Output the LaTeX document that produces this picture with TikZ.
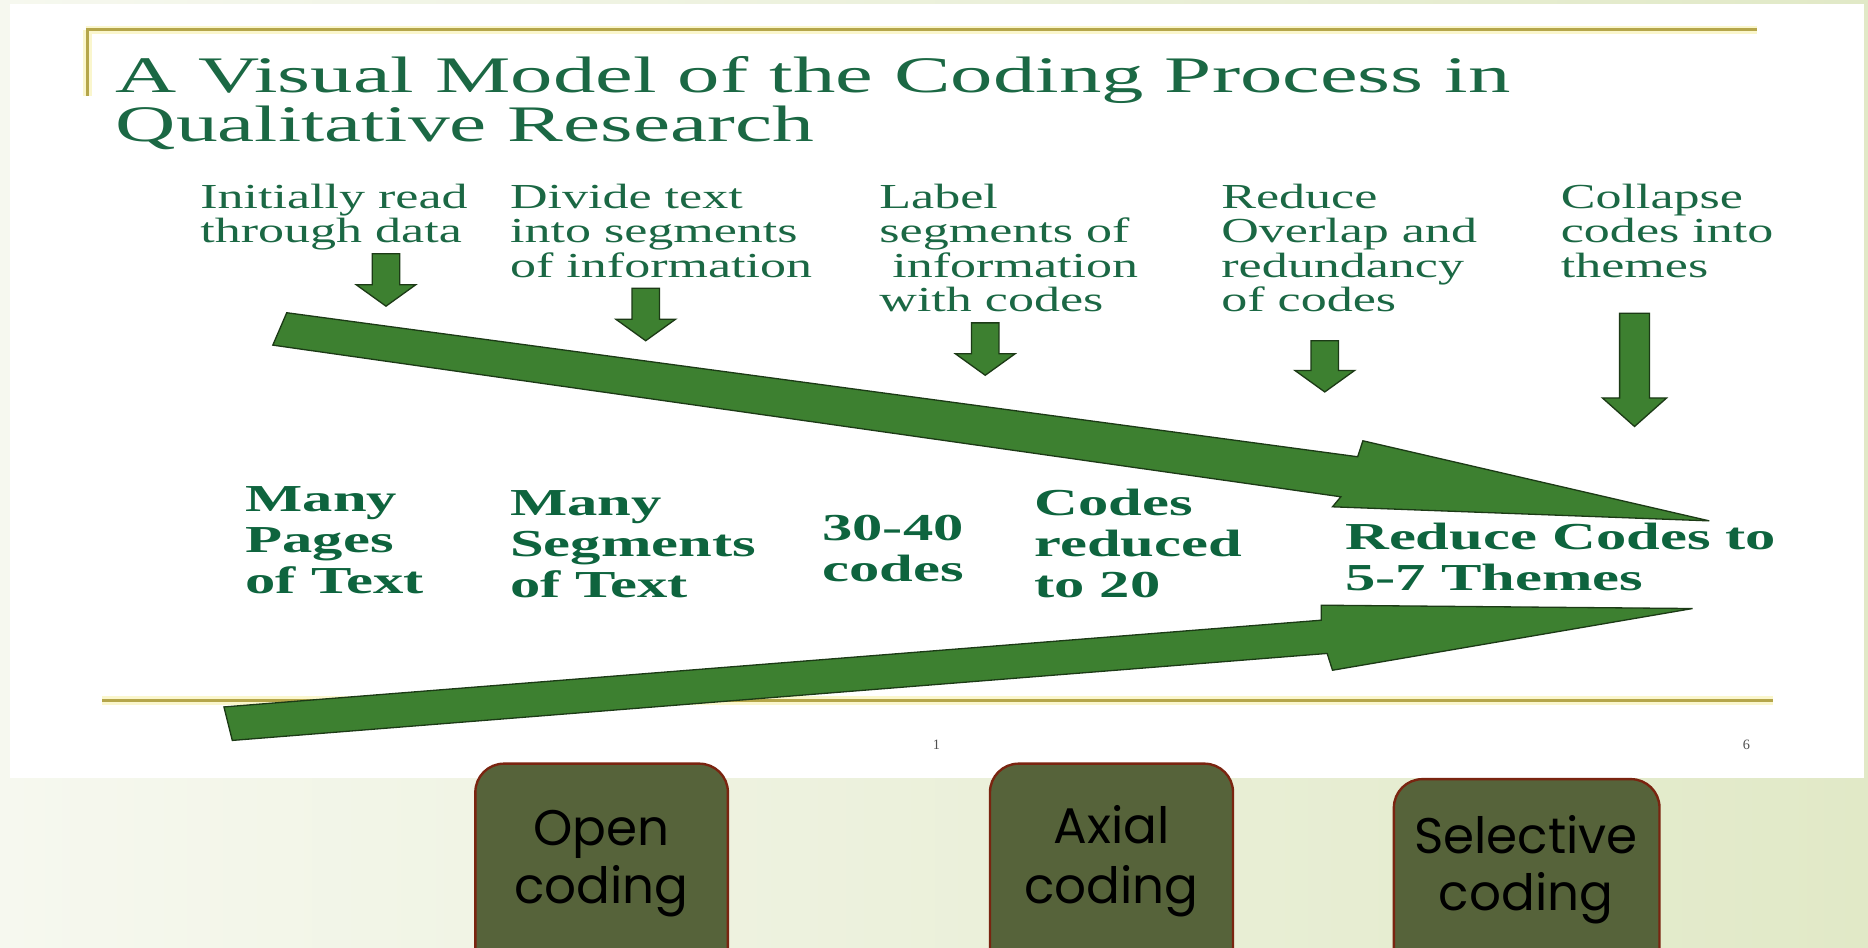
\documentclass[tikz,border=0pt]{standalone}
\usepackage{fontspec}
\setmainfont{Liberation Serif}
\newfontfamily\gothic{Poppins}
\definecolor{txtgreen}{RGB}{27,104,68}
\definecolor{boldgreen}{RGB}{14,100,62}
\definecolor{arrowfill}{RGB}{61,128,48}
\definecolor{arrowline}{RGB}{28,58,22}
\definecolor{gold}{RGB}{181,166,74}
\definecolor{glow}{RGB}{250,246,205}
\definecolor{boxfill}{RGB}{86,99,58}
\definecolor{boxline}{RGB}{122,36,16}
\definecolor{bgleft}{RGB}{246,248,239}
\definecolor{bgright}{RGB}{225,233,199}
\definecolor{pagegray}{RGB}{80,80,80}
\newcommand\txtcol[7]{% name, style, sx, x, y0, pitch, list
  \foreach \t [count=\i] in {#7} {%
    \node[#2] (#1\i) at (#4, {#5+(\i-1)*#6}) {\scalebox{#3}[1]{\t}};}}
\newcommand\blockdn[7]{% name, cx, top, headbase, tip, shaftw, headw
  \coordinate (#1) at (#2,#5);
  \filldraw[bigarrow] (#2-#6/2,#3) -- (#2+#6/2,#3) -- (#2+#6/2,#4) -- (#2+#7/2,#4)
    -- (#2,#5) -- (#2-#7/2,#4) -- (#2-#6/2,#4) -- cycle;}
\begin{document}
\begin{tikzpicture}[x=1pt,y=-1pt,
  desc/.style={anchor=base west, inner sep=0, text=txtgreen, font=\fontsize{29.5}{30}\selectfont},
  boldlbl/.style={anchor=base west, inner sep=0, text=boldgreen, font=\fontsize{32}{32}\selectfont\bfseries},
  titletxt/.style={anchor=base west, inner sep=0, text=txtgreen, font=\fontsize{43}{45}\selectfont},
  bigarrow/.style={fill=arrowfill, draw=arrowline, line width=1.1pt, line join=miter},
  codebox/.style={draw=boxline, fill=boxfill, line width=2pt, rounded corners=24pt, minimum height=220pt, anchor=north, inner sep=0},
  boxtxt/.style={anchor=base, inner sep=0, text=black, font=\gothic\fontsize{42}{42}\selectfont},
  pagenum/.style={inner sep=0, text=pagegray, font=\fontsize{12}{12}\selectfont},
  goldline/.style={draw=gold, line width=2.5pt},
  glowline/.style={draw=glow, line width=7pt}]
\useasboundingbox (0,0) rectangle (1568,795);
\clip (0,0) rectangle (1568,795);
% background
\fill[left color=bgleft, right color=bgright] (0,0) rectangle (1568,795);
\fill[white] (8,3) rectangle (1565,653);
% gold rules
\draw[glowline] (72,25) -- (1475,25);
\draw[glowline] (73.5,25) -- (73.5,81);
\draw[glowline] (86,588) -- (1488,588);
\draw[goldline] (72,25) -- (1475,25);
\draw[gold, line width=3pt] (73.5,24) -- (73.5,81);
\draw[goldline] (86,588) -- (1488,588);
% title
\node[titletxt] (title1) at (97,78) {\resizebox{1171pt}{\height}{A Visual Model of the Coding Process in}};
\node[titletxt] (title2) at (97,119) {\resizebox{586pt}{\height}{Qualitative Research}};
% step descriptions
\txtcol{read}{desc}{1.48}{168}{175}{28.8}{Initially read,through data}
\txtcol{divide}{desc}{1.48}{428}{175}{28.8}{Divide text,into segments,of information}
\txtcol{label}{desc}{1.48}{738}{175}{28.8}{Label,segments of,\hspace*{0.25em}information,with codes}
\txtcol{reduce}{desc}{1.48}{1025}{175}{28.8}{Reduce,Overlap and,redundancy,of codes}
\txtcol{collapse}{desc}{1.48}{1310}{175}{28.8}{Collapse,codes into,themes}
% small arrows
\blockdn{a1}{324}{213}{239}{257}{23}{50}
\blockdn{a2}{542}{242}{268}{286}{23}{50}
\blockdn{a3}{827}{271}{297}{315}{23}{50}
\blockdn{a4}{1112}{286}{311}{329}{23}{50}
\blockdn{a5}{1372}{263}{334}{358}{25}{54}
% big arrows
\filldraw[bigarrow] (240.7,262.5) -- (1139.6,383.4) -- (1144,370) -- (1434.7,437.2)
  -- (1118.5,425.4) -- (1125.5,417) -- (229,289.7) -- cycle;
\filldraw[bigarrow] (188,593.4) -- (1109,520.6) -- (1109,508) -- (1420.7,510.8)
  -- (1118.5,562.6) -- (1114,548.5) -- (195,621.5) -- cycle;
% bold labels
\txtcol{pages}{boldlbl}{1.59}{206}{429}{34.4}{Many,Pages,of Text}
\txtcol{segs}{boldlbl}{1.59}{428}{433}{34.2}{Many,Segments,of Text}
\txtcol{thirty}{boldlbl}{1.59}{690}{454}{34.4}{30-40,codes}
\txtcol{twenty}{boldlbl}{1.59}{868}{433}{34.2}{Codes,reduced,to 20}
\txtcol{themes}{boldlbl}{1.59}{1129}{461.3}{34.7}{Reduce Codes to,5-7 Themes}
% page numbers
\node[pagenum] (pn1) at (786,625) {1};
\node[pagenum] (pn6) at (1466,625) {6};
% coding boxes
\node[codebox, minimum width=212pt] (open) at (505,640) {};
\node[codebox, minimum width=204pt] (axial) at (933,640) {};
\node[codebox, minimum width=223pt] (selective) at (1281.5,653) {};
\node[boxtxt] (open1) at (505,709.5) {Open};
\node[boxtxt] (open2) at (505,758.5) {coding};
\node[boxtxt] (axial1) at (933,708) {Axial};
\node[boxtxt] (axial2) at (933,758) {coding};
\node[boxtxt] (sel1) at (1281,716) {Selective};
\node[boxtxt] (sel2) at (1281,764) {coding};
\end{tikzpicture}
\end{document}
